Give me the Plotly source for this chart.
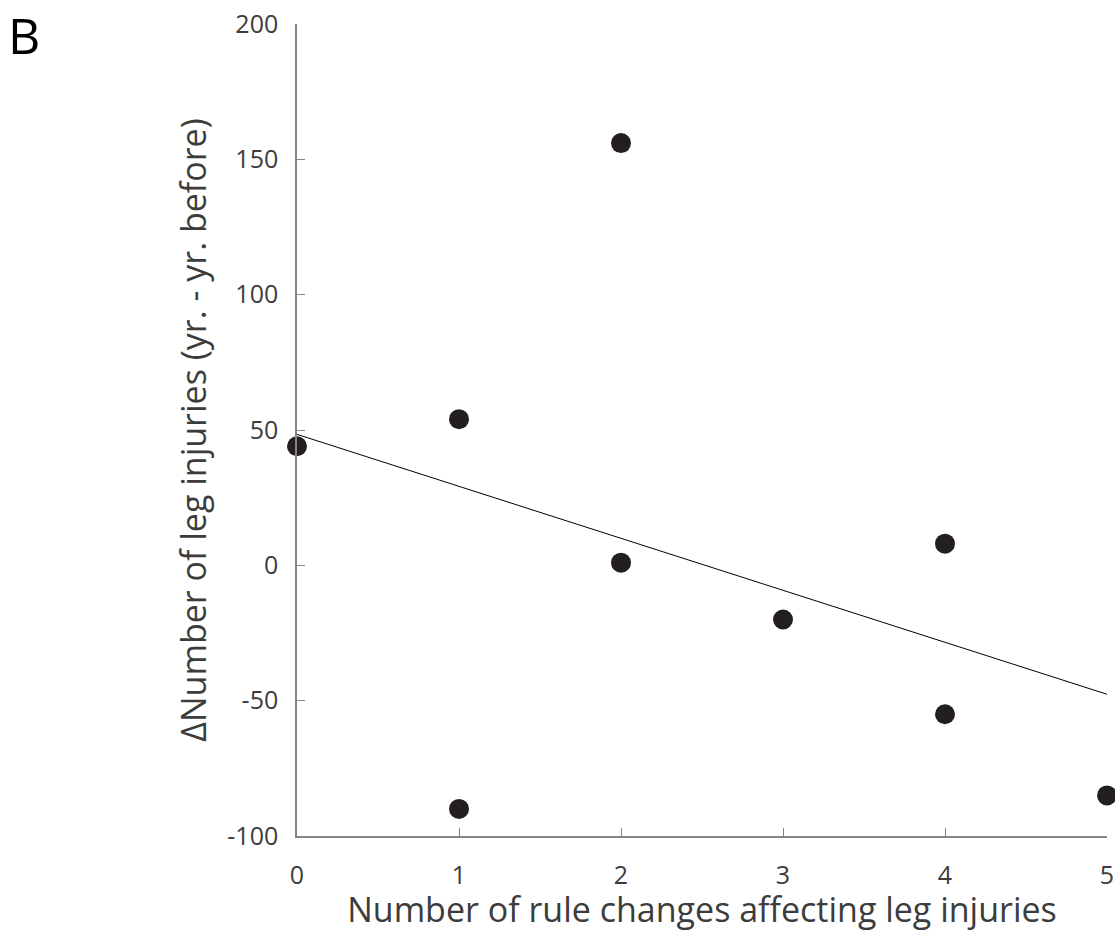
import numpy as np
import plotly.graph_objects as go

# Rule changes per year vs. change in leg injuries from the previous year
rule_changes = [0, 1, 1, 2, 2, 3, 4, 4, 5]
delta_injuries = [44, 54, -90, 156, 1, -20, 8, -55, -85]

x_ticks = [0, 1, 2, 3, 4, 5]
y_ticks = [-100, -50, 0, 50, 100, 150, 200]

# Least-squares trend line
slope, intercept = np.polyfit(rule_changes, delta_injuries, 1)
fit_x = [0, 5]
fit_y = [intercept + slope * v for v in fit_x]

axis_color = "#858585"
text_color = "#3c3c3c"
font_family = "Open Sans, Noto Sans, sans-serif"

fig = go.Figure()
fig.add_trace(go.Scatter(
    x=fit_x, y=fit_y, mode="lines",
    line=dict(color="black", width=1),
    hoverinfo="skip", cliponaxis=False,
))
fig.add_trace(go.Scatter(
    x=rule_changes, y=delta_injuries, mode="markers",
    marker=dict(size=20, color="#231f20", line=dict(width=0)),
    cliponaxis=False,
))

fig.update_layout(
    width=1115, height=932,
    margin=dict(l=297, r=8, t=24, b=96, autoexpand=False),
    paper_bgcolor="white", plot_bgcolor="white",
    showlegend=False,
    font=dict(family=font_family, color=text_color),
    # Labelled x axis: invisible outside ticks only space the labels away from the line
    xaxis=dict(
        range=[0, 5], tickvals=x_ticks, ticktext=[str(v) for v in x_ticks],
        automargin=False, ticklabeloverflow="allow",
        showgrid=False, zeroline=False, showline=True, linecolor=axis_color, linewidth=1.5,
        ticks="outside", ticklen=16, tickcolor="rgba(0,0,0,0)", tickwidth=1,
        tickfont=dict(size=25, color=text_color, family=font_family),
        title=dict(text="Number of rule changes affecting leg injuries",
                   font=dict(size=34, color=text_color, family=font_family), standoff=8),
    ),
    # Overlaid copy of the x axis carrying the short inward tick marks
    xaxis2=dict(
        overlaying="x", matches="x", anchor="y", side="bottom",
        tickvals=x_ticks, showticklabels=False, automargin=False,
        showgrid=False, zeroline=False, showline=False,
        ticks="inside", ticklen=8, tickcolor=axis_color, tickwidth=1,
    ),
    yaxis=dict(
        range=[-100, 200], tickvals=y_ticks, ticktext=[str(v) for v in y_ticks],
        automargin=False,
        showgrid=False, zeroline=False, showline=True, linecolor=axis_color, linewidth=1.5,
        ticks="inside", ticklen=8, tickcolor=axis_color, tickwidth=1,
        ticklabelstandoff=12,
        tickfont=dict(size=25, color=text_color, family=font_family),
        title=dict(text="ΔNumber of leg injuries (yr. - yr. before)",
                   font=dict(size=34, color=text_color, family=font_family), standoff=10),
    ),
)

# Empty trace so the overlaid tick axis is drawn
fig.add_trace(go.Scatter(x=[], y=[], xaxis="x2", yaxis="y", showlegend=False, hoverinfo="skip"))

fig.add_annotation(
    text="B", xref="paper", yref="paper", x=-0.3575, y=1.03,
    xanchor="left", yanchor="top", showarrow=False, borderpad=0,
    font=dict(size=50, color="black", family=font_family),
)

fig.write_html("out.html", post_script="document.body.style.margin='0';")
